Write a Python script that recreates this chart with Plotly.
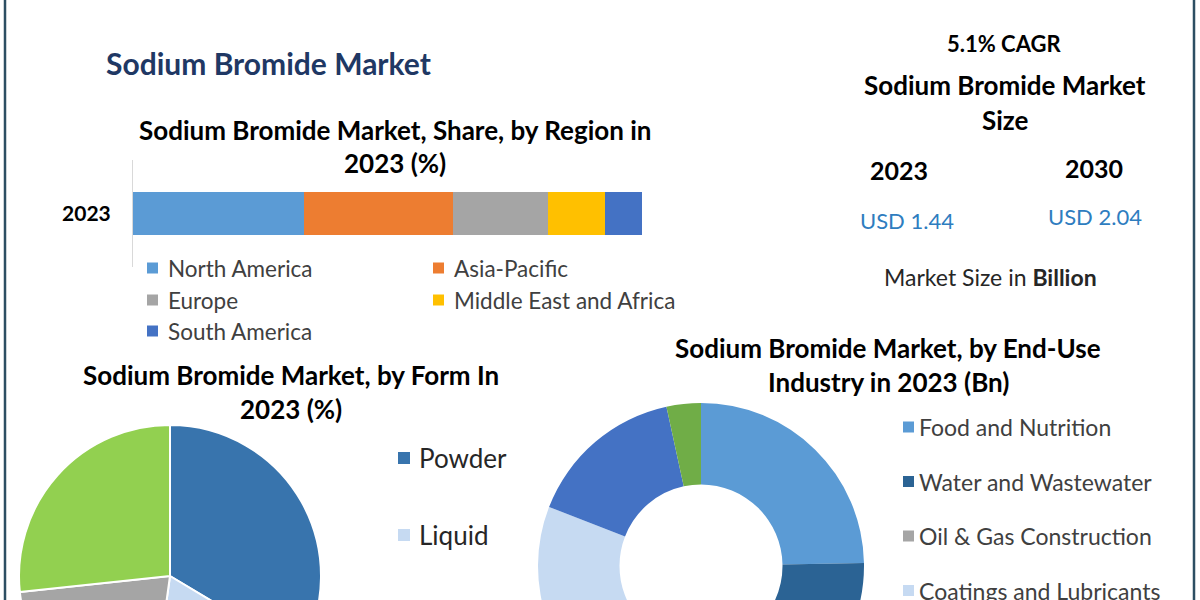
import plotly.graph_objects as go

# region share (bar)
regions = ["North America", "Asia-Pacific", "Europe", "Middle East and Africa", "South America"]
region_share = [33.6, 29.3, 18.6, 11.2, 7.3]
region_colors = ["#5b9bd5", "#ed7d31", "#a5a5a5", "#ffc000", "#4472c4"]
bar_year = ["2023"]

# form (pie)
forms = ["Powder", "Liquid", "Crystal", "Others"]
form_share = [33.6, 18.6, 21.1, 26.7]
form_colors = ["#3874ad", "#c6daf2", "#a5a5a5", "#92d050"]

# end-use industry (donut)
industries = ["Food and Nutrition", "Water and Wastewater", "Oil & Gas Construction",
              "Coatings and Lubricants", "Pharmaceuticals", "Others"]
industry_value = [24.7, 17.0, 16.0, 23.2, 15.7, 3.4]
industry_colors = ["#5b9bd5", "#2b6394", "#a5a5a5", "#c6daf2", "#4472c4", "#70ad47"]

market_years = ["2023", "2030"]
market_size = ["USD 1.44", "USD 2.04"]

W, H = 1200, 760
FONT = "Lato"


def px(x):
    return x / W


def py(y):
    return 1 - y / H


fig = go.Figure()

for name, val, col in zip(regions, region_share, region_colors):
    fig.add_trace(go.Bar(x=[val], y=bar_year, name=name, orientation="h",
                         marker=dict(color=col, line=dict(width=0)), width=0.4,
                         showlegend=False))

fig.add_trace(go.Pie(labels=forms, values=form_share, sort=False, direction="clockwise",
                     rotation=0, textinfo="none", showlegend=False,
                     marker=dict(colors=form_colors, line=dict(color="white", width=2)),
                     domain=dict(x=[px(19), px(321)], y=[py(727), py(425)])))

fig.add_trace(go.Pie(labels=industries, values=industry_value, sort=False, direction="clockwise",
                     rotation=0, hole=0.5, textinfo="none", showlegend=False,
                     marker=dict(colors=industry_colors, line=dict(width=0)),
                     domain=dict(x=[px(538), px(864)], y=[py(729), py(403)])))

fig.update_layout(
    width=W, height=H, margin=dict(l=0, r=0, t=0, b=0),
    paper_bgcolor="white", plot_bgcolor="white", barmode="stack",
    font=dict(family=FONT, color="#000000"),
    xaxis=dict(domain=[px(133), px(642)], range=[0, 100], visible=False, fixedrange=True),
    yaxis=dict(domain=[py(267), py(160)], type="category", showline=True, linecolor="#d9d9d9",
               linewidth=1, showgrid=False, ticks="", ticklabelstandoff=17,
               tickfont=dict(family=FONT, size=21, color="#000000", weight="bold")),
)

ann = []


def text(x, y, s, size, color="#000000", bold=False, anchor="center"):
    ann.append(dict(x=px(x), y=py(y), xref="paper", yref="paper", text=s, showarrow=False,
                    xanchor=anchor, yanchor="middle",
                    font=dict(family=FONT, size=size, color=color, weight="bold" if bold else "normal")))


shapes = []


def swatch(x, y, color, s=12):
    shapes.append(dict(type="rect", xref="paper", yref="paper", x0=px(x), x1=px(x + s),
                       y0=py(y + s / 2), y1=py(y - s / 2), fillcolor=color, line=dict(width=0)))


# titles
text(104, 63, "Sodium Bromide Market", 30, "#1f3864", True, "left")
text(395, 130, "Sodium Bromide Market, Share, by Region in", 26, bold=True)
text(395, 163, "2023 (%)", 26, bold=True)
text(291, 375, "Sodium Bromide Market, by Form In", 26, bold=True)
text(291, 409, "2023 (%)", 26, bold=True)
text(888, 348, "Sodium Bromide Market, by End-Use", 26, bold=True)
text(888, 382, "Industry in 2023 (Bn)", 26, bold=True)

# region legend
leg_pos = [(147, 268), (433, 268), (147, 300), (433, 300), (147, 331)]
for (lx, ly), name, col in zip(leg_pos, regions, region_colors):
    swatch(lx, ly, col, 11)
    text(lx + 19, ly, name, 22.5, "#404040", anchor="left")

# form legend (only the entries visible in the frame)
for i, (name, col) in enumerate(zip(forms[:2], form_colors[:2])):
    ly = 458 + i * 77
    swatch(398, ly, col, 12)
    text(417, ly, name, 26, "#262626", anchor="left")

# end-use legend (only the entries visible in the frame)
for i, (name, col) in enumerate(zip(industries[:4], industry_colors[:4])):
    ly = 427 + i * 54.5
    swatch(903, ly, col, 11)
    text(917, ly, name, 23, "#404040", anchor="left")

# market size panel
text(1004, 43, "5.1% CAGR", 22, bold=True)
text(1005, 85, "Sodium Bromide Market", 26, bold=True)
text(1005, 120, "Size", 26, bold=True)
for xc, yr, yy in zip([899, 1094], market_years, [170, 168]):
    text(xc, yy, yr, 25, bold=True)
for xc, val, yy in zip([907, 1095], market_size, [220, 217]):
    text(xc, yy, val, 22, "#2e7dbf")
text(990, 277, "Market Size in <b>Billion</b>", 23, "#262626")

# frame
for x in [5, 1194]:
    shapes.append(dict(type="line", xref="paper", yref="paper", x0=px(x), x1=px(x),
                       y0=0, y1=1, line=dict(color="#2d4e62", width=2.5)))

fig.update_layout(annotations=ann, shapes=shapes)

clip = ("var d=document.getElementById('{plot_id}');"
        "d.parentElement.style.height='600px';d.parentElement.style.overflow='hidden';"
        "document.body.style.margin='0';document.body.style.overflow='hidden';")
fig.write_html("out.html", post_script=clip, config={"displayModeBar": False})
